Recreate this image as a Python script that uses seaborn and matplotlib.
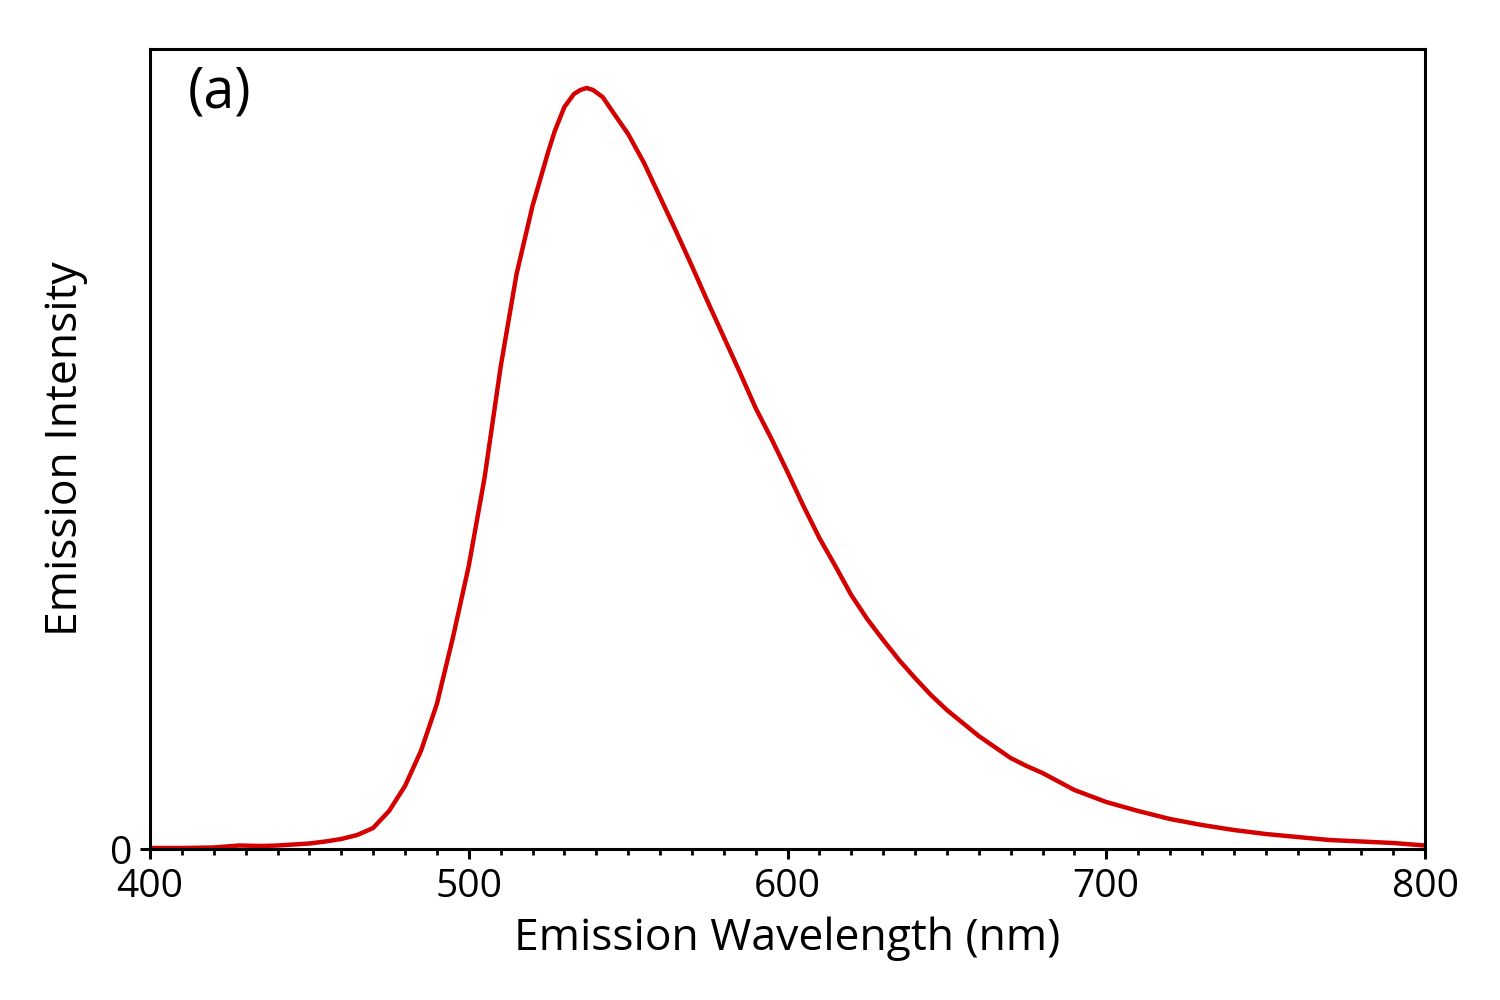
"""
Emission spectrum, panel (a): intensity vs. emission wavelength.
"""

import numpy as np
import pandas as pd
import matplotlib.pyplot as plt
from matplotlib.ticker import MultipleLocator
import seaborn as sns

# Values (arbitrary intensity units)
wavelength_nm = [
    400, 410, 420, 428, 435, 440, 445, 450, 455, 460, 465, 470, 475, 480,
    485, 490, 495, 500, 505, 510, 515, 520, 525, 527, 530, 533, 535, 537,
    539, 542, 545, 550, 555, 560, 565, 570, 575, 580, 585, 590, 595, 600,
    605, 610, 615, 620, 625, 630, 635, 640, 645, 650, 655, 660, 665, 670,
    675, 680, 690, 700, 710, 720, 730, 740, 750, 760, 770, 780, 790, 800,
]
intensity = [
    1, 1, 1.5, 3.5, 3, 3.5, 4.5, 5.5, 7.5, 10, 14, 21, 38, 63,
    98, 145, 211, 283, 372, 482, 575, 643, 698, 718, 742, 755, 759, 761,
    759, 752, 738, 715, 686, 652, 618, 583, 547, 512, 477, 441, 410, 377,
    343, 311, 283, 254, 230, 209, 189, 171, 154, 139, 126, 113, 102, 91,
    83, 76, 59, 47, 38, 30, 24, 19, 15, 12, 9, 7.5, 6, 3.5,
]

x_ticks = [400, 500, 600, 700, 800]
y_ticks = [0]
panel_label = "(a)"

sns.set_style("ticks")
plt.rcParams["font.family"] = ["Open Sans", "DejaVu Sans"]
plt.rcParams["text.color"] = "black"
plt.rcParams["axes.labelcolor"] = "black"
plt.rcParams["xtick.color"] = "black"
plt.rcParams["ytick.color"] = "black"

df = pd.DataFrame({"wavelength": wavelength_nm, "intensity": intensity})

fig = plt.figure(figsize=(15, 10), dpi=100)
ax = fig.add_axes([0.1, 0.151, 0.85, 0.8])

sns.lineplot(data=df, x="wavelength", y="intensity", color="#d40000",
             linewidth=3.2, ax=ax)

ax.set_xlim(400, 800)
ax.set_ylim(0, 800)
ax.set_xticks(x_ticks)
ax.xaxis.set_minor_locator(MultipleLocator(10))
ax.set_yticks(y_ticks)

for side in ["left", "right", "top", "bottom"]:
    ax.spines[side].set_visible(True)
    ax.spines[side].set_linewidth(2.2)
    ax.spines[side].set_color("black")

ax.tick_params(axis="both", which="major", direction="out", length=7.5,
               width=2.2, labelsize=28)
ax.tick_params(axis="x", which="major", pad=6)
ax.tick_params(axis="y", which="major", pad=5)
ax.tick_params(axis="x", which="minor", direction="out", length=4.5,
               width=2.0)
ax.tick_params(top=False, right=False, which="both")

ax.set_xlabel("Emission Wavelength (nm)", fontsize=32, labelpad=8)
ax.set_ylabel("Emission Intensity", fontsize=32, labelpad=16)

ax.text(0.03, 0.98, panel_label, transform=ax.transAxes, fontsize=40,
        va="top", ha="left")

fig.savefig("out.png", dpi=100)
plt.close(fig)
